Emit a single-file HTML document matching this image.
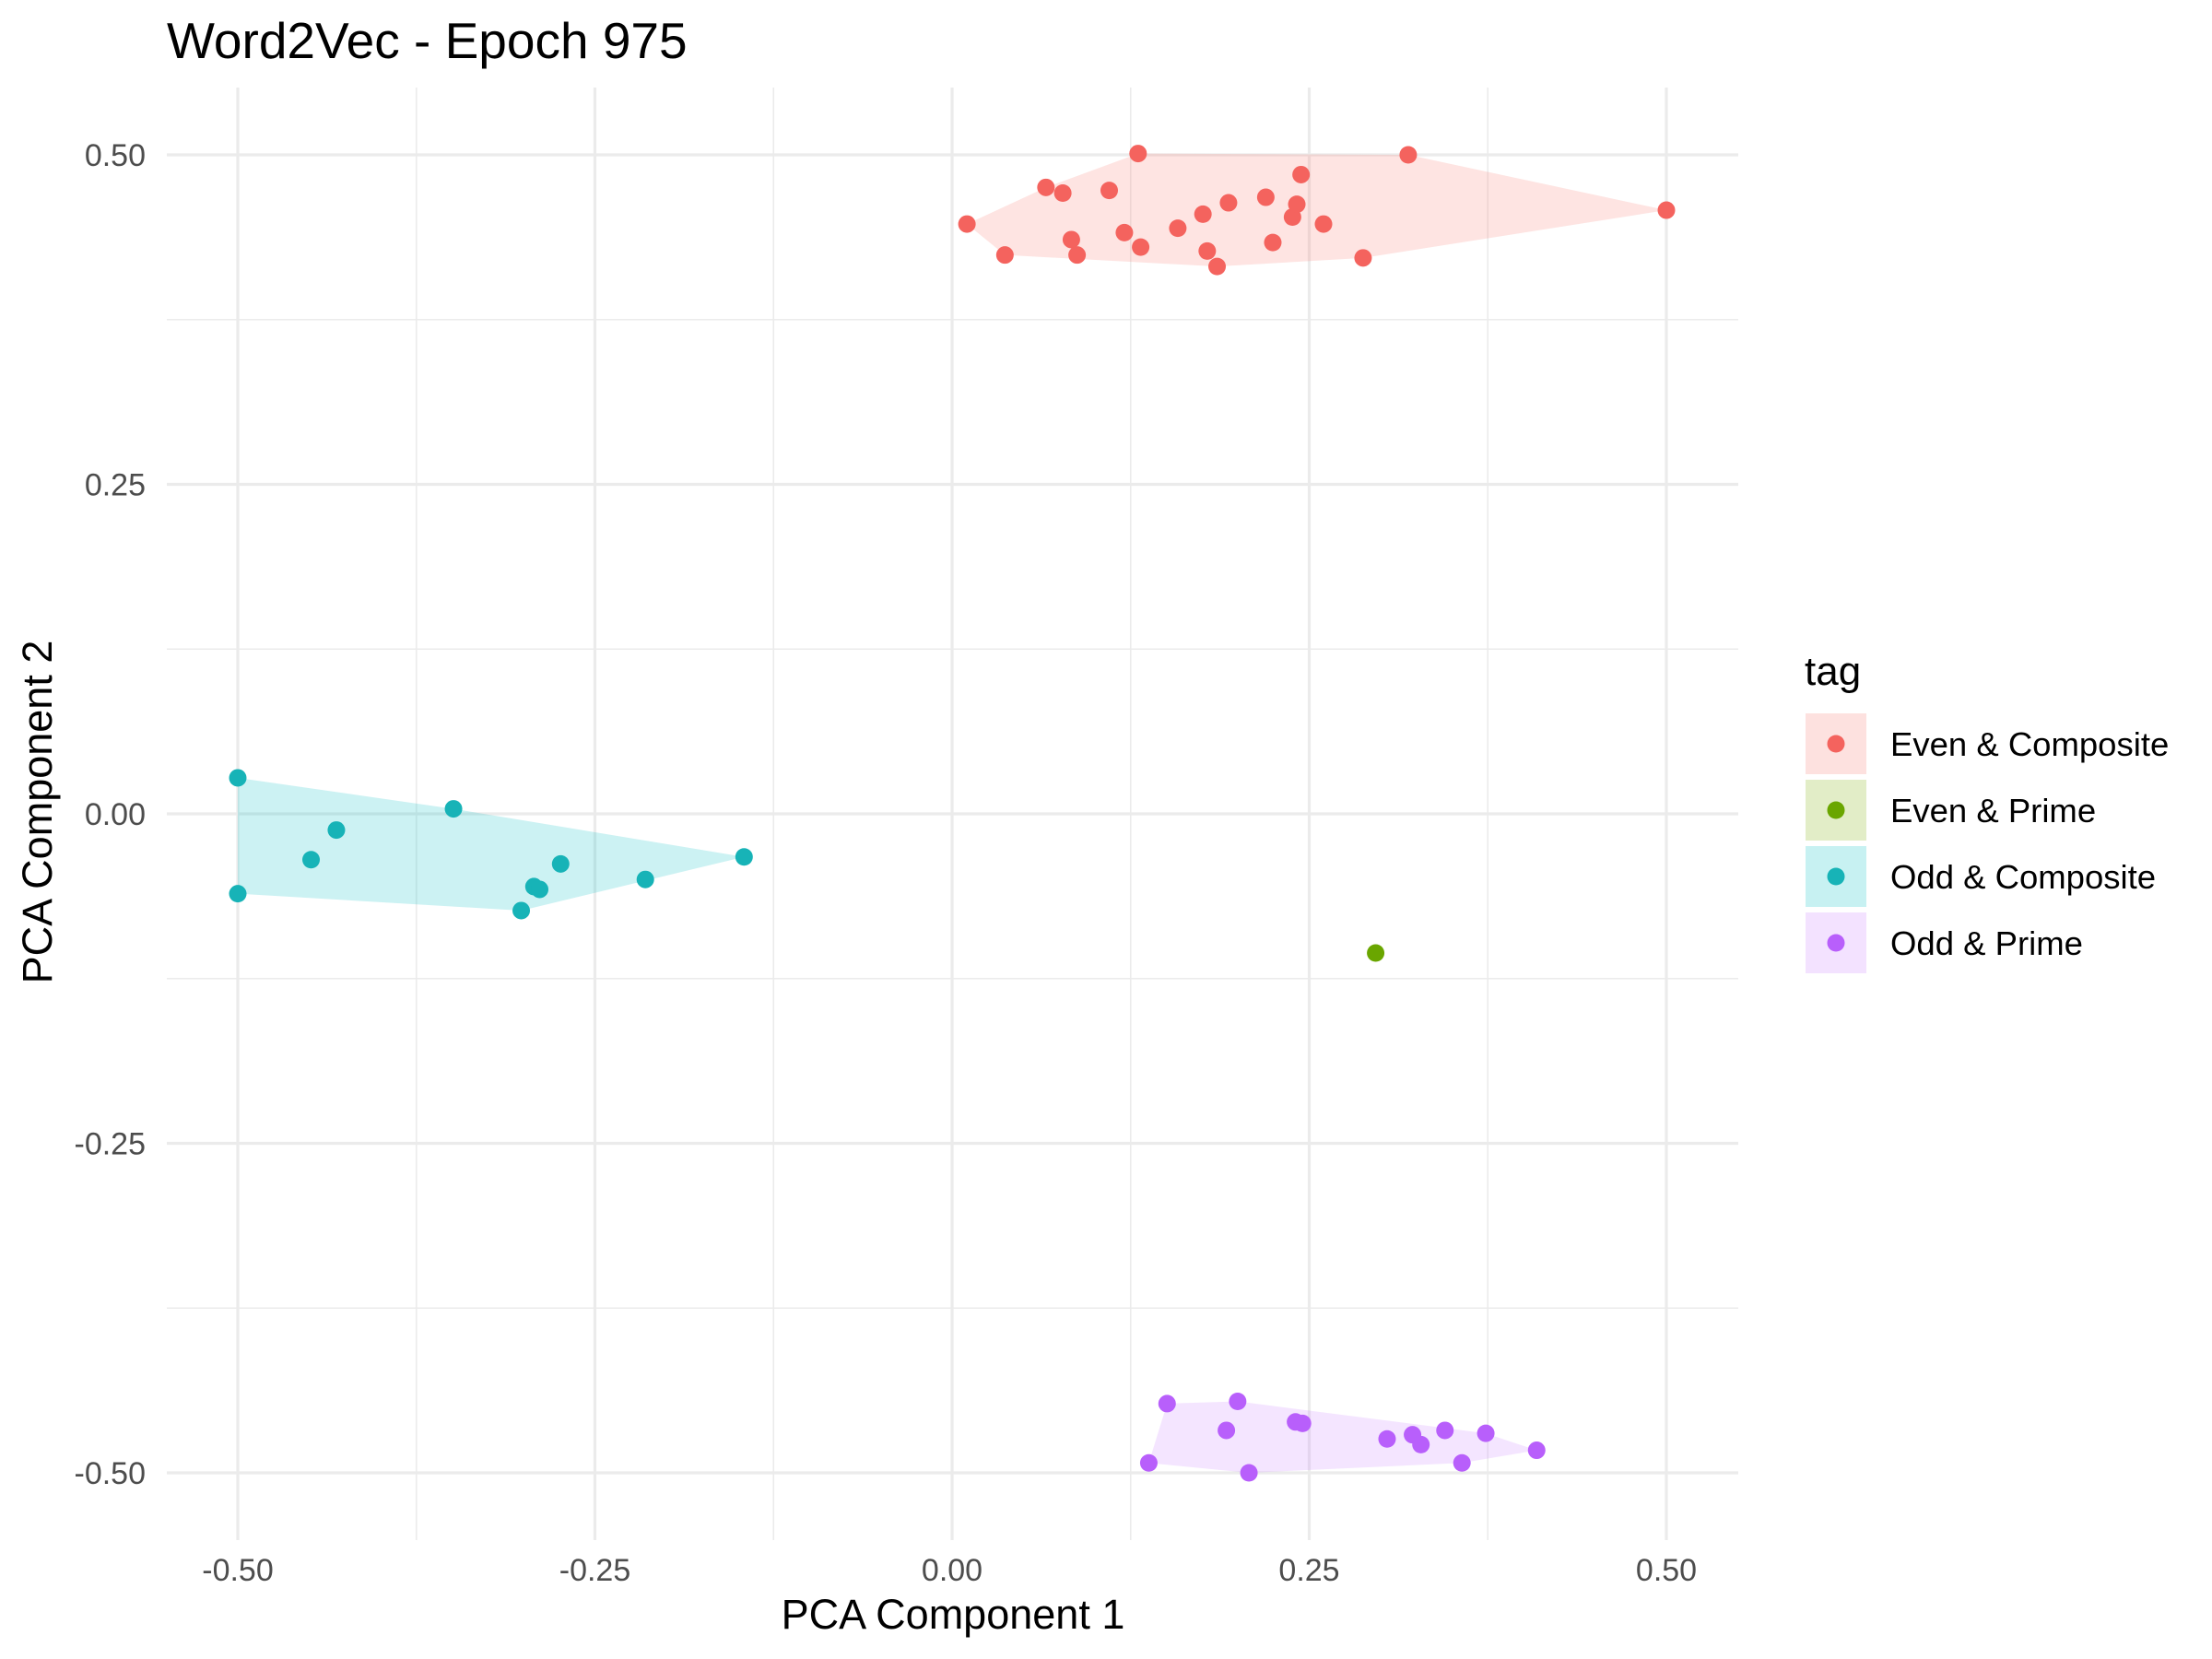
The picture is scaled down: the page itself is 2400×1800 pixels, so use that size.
<!DOCTYPE html>
<html><head><meta charset="utf-8"><style>
html,body{margin:0;padding:0;background:#fff;}
svg{display:block;font-family:"Liberation Sans",Arial,sans-serif;}
</style></head><body>
<svg id="chart" width="2400" height="1800" viewBox="0 0 2400 1800">
<rect width="2400" height="1800" fill="#fff"/>
<text x="181" y="63" font-size="55" fill="#000">Word2Vec - Epoch 975</text>
<g id="grid"></g>
<g id="hulls"></g>
<g id="points"></g>
<g id="xticks"></g>
<g id="yticks"></g>
<text x="1034" y="1767" font-size="45" text-anchor="middle" fill="#000">PCA Component 1</text>
<text transform="translate(56,881) rotate(-90)" font-size="45" text-anchor="middle" fill="#000">PCA Component 2</text>
<g id="legend">
<text x="1958" y="743" font-size="44" fill="#000">tag</text>
</g>
</svg>
<script>
const groups = ["Even & Composite","Even & Prime","Odd & Composite","Odd & Prime"];
const colors = ["#F8766D","#7CAE00","#00BFC4","#C77CFF"];
const dotColors = ["#F4635E","#6AA600","#17B3B7","#B85FFB"];
const evenCompX = [0.0104,0.037,0.0657,0.0775,0.0835,0.0875,0.110,0.1206,0.1302,0.132,0.158,0.1756,0.1786,0.1855,0.1935,0.2196,0.2245,0.2383,0.2413,0.2443,0.26,0.2877,0.3193,0.5];
const evenCompY = [0.4475,0.424,0.4753,0.471,0.4357,0.424,0.473,0.441,0.501,0.430,0.4443,0.455,0.427,0.4153,0.4636,0.4678,0.4335,0.4528,0.4625,0.485,0.4475,0.4218,0.5,0.458];
const evenPrimeX = [0.2965];
const evenPrimeY = [-0.1056];
const oddCompX = [-0.5,-0.5,-0.431,-0.4487,-0.349,-0.2927,-0.2887,-0.3016,-0.274,-0.2147,-0.1456];
const oddCompY = [0.0273,-0.0606,-0.0123,-0.0348,0.0038,-0.0552,-0.0573,-0.0734,-0.038,-0.0498,-0.0327];
const oddPrimeX = [0.1505,0.1999,0.1377,0.192,0.2078,0.2404,0.2453,0.3045,0.3223,0.3282,0.345,0.3569,0.3736,0.4092];
const oddPrimeY = [-0.4475,-0.4458,-0.4925,-0.4678,-0.5,-0.4614,-0.4625,-0.4743,-0.4711,-0.4786,-0.4678,-0.4925,-0.47,-0.4829];
const majorTicks = [-0.5,-0.25,0,0.25,0.5];
const minorTicks = [-0.375,-0.125,0.125,0.375];
const tickLabels = ["-0.50","-0.25","0.00","0.25","0.50"];

const NS="http://www.w3.org/2000/svg";
const PL=181, PR=1886, PT=95, PB=1671;
function sx(v){return 258 + (v+0.5)*1550;}
function sy(v){return 168 + (0.5-v)*1430;}
function mk(tag,attrs,parent){const e=document.createElementNS(NS,tag);for(const k in attrs)e.setAttribute(k,attrs[k]);parent.appendChild(e);return e;}
const grid=document.getElementById('grid');
minorTicks.forEach(t=>{
  let l=mk('line',{x1:sx(t),x2:sx(t),y1:PT,y2:PB,stroke:'#EBEBEB','stroke-width':1.6},grid);
  
  
  let h=mk('line',{x1:PL,x2:PR,y1:sy(t),y2:sy(t),stroke:'#EBEBEB','stroke-width':1.6},grid);
  
  
});
majorTicks.forEach(t=>{
  let l=mk('line',{x1:sx(t),x2:sx(t),y1:PT,y2:PB,stroke:'#EBEBEB','stroke-width':3.2},grid);
  
  
  let h=mk('line',{x1:PL,x2:PR,y1:sy(t),y2:sy(t),stroke:'#EBEBEB','stroke-width':3.2},grid);
  
  
});
const xt=document.getElementById('xticks'), yt=document.getElementById('yticks');
majorTicks.forEach((t,i)=>{
  let a=mk('text',{x:sx(t),y:1715,'font-size':34,'text-anchor':'middle',fill:'#4D4D4D'},xt);
  a.textContent=tickLabels[i];
  
  
  let b=mk('text',{x:158,y:sy(t)+12,'font-size':34,'text-anchor':'end',fill:'#4D4D4D'},yt);
  b.textContent=tickLabels[i];
  
  
});
const series=[[evenCompX,evenCompY],[evenPrimeX,evenPrimeY],[oddCompX,oddCompY],[oddPrimeX,oddPrimeY]];
function hull(pts){
  pts=pts.slice().sort((a,b)=>a[0]-b[0]||a[1]-b[1]);
  if(pts.length<3)return pts;
  const cr=(o,a,b)=>(a[0]-o[0])*(b[1]-o[1])-(a[1]-o[1])*(b[0]-o[0]);
  const lo=[],up=[];
  for(const p of pts){while(lo.length>=2&&cr(lo[lo.length-2],lo[lo.length-1],p)<=0)lo.pop();lo.push(p);}
  for(let i=pts.length-1;i>=0;i--){const p=pts[i];while(up.length>=2&&cr(up[up.length-2],up[up.length-1],p)<=0)up.pop();up.push(p);}
  up.pop();lo.pop();return lo.concat(up);
}
const hg=document.getElementById('hulls'), pg=document.getElementById('points');
series.forEach((s,gi)=>{
  const pts=s[0].map((x,i)=>[sx(x),sy(s[1][i])]);
  if(pts.length>=3){
    const h=hull(pts);
    let p=mk('polygon',{points:h.map(q=>q.join(',')).join(' '),fill:colors[gi],'fill-opacity':0.2},hg);
    
    
  }
  pts.forEach(q=>{
    let c=mk('circle',{cx:q[0],cy:q[1],r:9.5,fill:dotColors[gi]},pg);
    
    
  });
});
const lg=document.getElementById('legend');
groups.forEach((g,i)=>{
  const y=774+i*72;
  let r=mk('rect',{x:1959,y:y,width:66,height:66,fill:colors[i],'fill-opacity':0.22},lg);
  
  
  let c=mk('circle',{cx:1992,cy:y+33,r:9.5,fill:dotColors[i]},lg);
  
  
  let t=mk('text',{x:2051,y:y+46,'font-size':36.5,fill:'#000'},lg);
  t.textContent=g;
  
  
});
</script>
</body></html>
